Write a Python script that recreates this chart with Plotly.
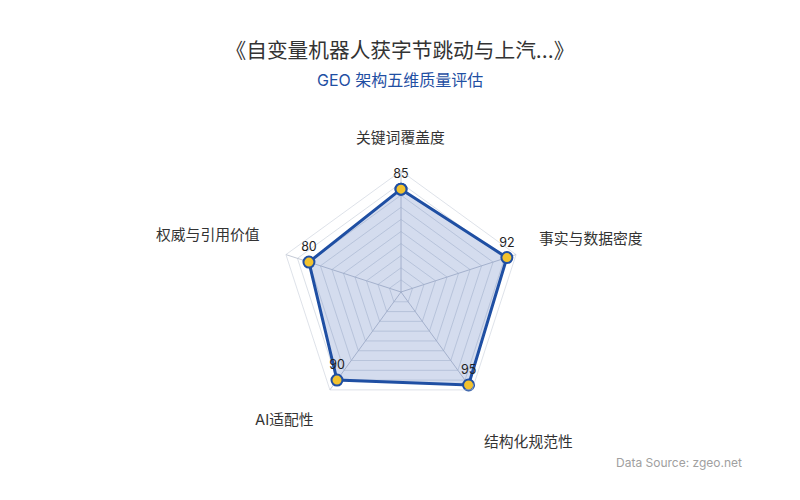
import plotly.graph_objects as go

categories = ["关键词覆盖度", "事实与数据密度", "结构化规范性", "AI适配性", "权威与引用价值"]
values = [85, 92, 95, 90, 80]
value_labels = ["85", "92", "95", "90", "80"]

title_text = "《自变量机器人获字节跳动与上汽...》"
subtitle_text = "GEO 架构五维质量评估"
source_text = "Data Source: zgeo.net"

FONT = "Inter, 'Noto Sans CJK SC', sans-serif"

# label placement (paper coords) for category names around the radar
label_pos = [(0.49, 0.74), (0.729, 0.538), (0.651, 0.132), (0.345, 0.176), (0.25, 0.546)]

fig = go.Figure()
fig.add_trace(go.Scatterpolar(
    r=values + values[:1],
    theta=categories + categories[:1],
    text=value_labels + [""],
    mode="lines+markers+text",
    textposition="top center",
    textfont=dict(family=FONT, size=12.5, color="#222222"),
    fill="toself",
    fillcolor="rgba(40,80,170,0.2)",
    line=dict(color="#1f4fa3", width=3),
    marker=dict(size=11, color="#f2c22e", line=dict(color="#1f4fa3", width=2)),
    cliponaxis=False,
    hoverinfo="skip",
    showlegend=False,
))

annotations = [
    dict(text=subtitle_text, x=0.49, y=0.856, xref="paper", yref="paper",
         xanchor="center", yanchor="middle", showarrow=False,
         font=dict(family=FONT, size=16, color="#1f4fa3")),
    dict(text=source_text, x=0.92, y=0.092, xref="paper", yref="paper",
         xanchor="right", yanchor="middle", showarrow=False,
         font=dict(family=FONT, size=12, color="#a0a0a0")),
]
for cat, (lx, ly) in zip(categories, label_pos):
    annotations.append(dict(text=cat, x=lx, y=ly, xref="paper", yref="paper",
                            xanchor="center", yanchor="middle", showarrow=False,
                            font=dict(family=FONT, size=14.8, color="#333333")))

fig.update_layout(
    width=800, height=500,
    paper_bgcolor="white",
    margin=dict(l=0, r=0, t=0, b=0),
    font=dict(family=FONT, color="#333333"),
    title=dict(
        text=title_text, x=0.49, xanchor="center", y=0.914, yanchor="middle",
        font=dict(family=FONT, size=20.7, color="#333333"),
    ),
    polar=dict(
        domain=dict(x=[0.34, 0.6425], y=[0.19, 0.674]),
        bgcolor="rgba(0,0,0,0)",
        gridshape="linear",
        radialaxis=dict(
            range=[0, 100], dtick=10, showticklabels=False, ticks="",
            showline=False, gridcolor="rgba(190,198,212,0.55)", gridwidth=1,
        ),
        angularaxis=dict(
            rotation=90, direction="clockwise",
            showline=True, linecolor="rgba(200,206,218,0.6)", linewidth=1,
            gridcolor="rgba(170,178,195,0.7)", gridwidth=1,
            ticks="", showticklabels=False,
        ),
    ),
    annotations=annotations,
)

fig.write_html("out.html")
